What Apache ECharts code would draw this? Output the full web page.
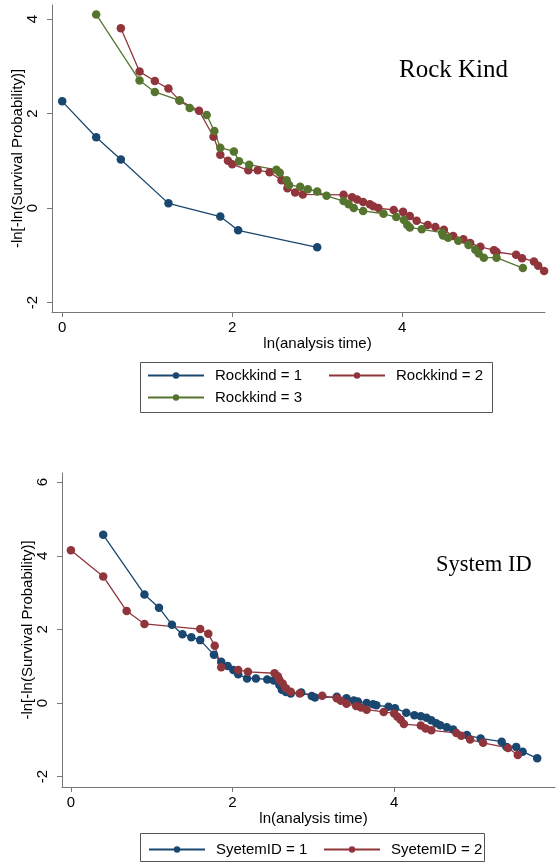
<!DOCTYPE html>
<html><head><meta charset="utf-8">
<script src="https://cdn.jsdelivr.net/npm/echarts@6/dist/echarts.min.js"></script>
<style>html,body{margin:0;padding:0;background:#fff}#c{width:559px;height:862px}</style>
</head><body><div id="c"></div>
<script>
// ---- Data (top chart: Rock Kind) ----
var rock1 = [[0,2.26],[0.40,1.50],[0.69,1.03],[1.25,0.10],[1.86,-0.18],[2.07,-0.47],[3.0,-0.83]];
var rock2 = [[0.69,3.81],[0.91,2.89],[1.09,2.69],[1.25,2.53],[1.38,2.28],[1.61,2.06],[1.78,1.51],[1.86,1.13],[1.95,1.00],[2.00,0.93],[2.19,0.80],[2.30,0.80],[2.44,0.76],[2.58,0.59],[2.65,0.42],[2.74,0.33],[2.83,0.29],[3.31,0.28],[3.41,0.23],[3.47,0.18],[3.54,0.13],[3.62,0.08],[3.66,0.04],[3.72,0.0],[3.90,-0.04],[4.01,-0.08],[4.09,-0.17],[4.17,-0.27],[4.30,-0.36],[4.39,-0.40],[4.49,-0.46],[4.60,-0.59],[4.72,-0.66],[4.80,-0.74],[4.92,-0.82],[5.08,-0.89],[5.11,-0.93],[5.34,-0.99],[5.41,-1.06],[5.55,-1.13],[5.60,-1.22],[5.67,-1.33]];
var rock3 = [[0.40,4.10],[0.91,2.70],[1.09,2.46],[1.38,2.28],[1.50,2.12],[1.70,1.97],[1.79,1.63],[1.86,1.28],[2.02,1.20],[2.08,0.99],[2.20,0.92],[2.52,0.81],[2.56,0.75],[2.64,0.59],[2.67,0.49],[2.80,0.45],[2.89,0.40],[3.0,0.35],[3.11,0.26],[3.31,0.15],[3.37,0.08],[3.43,0.0],[3.54,-0.06],[3.78,-0.12],[3.93,-0.19],[4.02,-0.25],[4.06,-0.36],[4.09,-0.41],[4.23,-0.45],[4.47,-0.52],[4.48,-0.58],[4.54,-0.63],[4.66,-0.69],[4.78,-0.78],[4.86,-0.88],[4.90,-0.96],[4.96,-1.05],[5.11,-1.05],[5.42,-1.27]];
// ---- Data (bottom chart: System ID) ----
var sys1 = [[0.40,4.57],[0.91,2.95],[1.09,2.59],[1.25,2.13],[1.38,1.87],[1.49,1.79],[1.60,1.71],[1.77,1.31],[1.86,1.12],[1.94,1.01],[2.01,0.90],[2.07,0.78],[2.18,0.67],[2.29,0.67],[2.43,0.64],[2.51,0.61],[2.58,0.49],[2.61,0.36],[2.66,0.30],[2.72,0.26],[2.85,0.29],[2.98,0.19],[3.02,0.15],[3.29,0.17],[3.41,0.13],[3.50,0.07],[3.55,0.04],[3.66,0.0],[3.74,-0.03],[3.78,-0.06],[3.93,-0.10],[4.01,-0.14],[4.15,-0.26],[4.25,-0.33],[4.33,-0.36],[4.40,-0.40],[4.46,-0.47],[4.52,-0.55],[4.57,-0.60],[4.65,-0.66],[4.73,-0.72],[4.90,-0.87],[5.07,-0.96],[5.33,-1.05],[5.39,-1.19],[5.51,-1.19],[5.59,-1.32],[5.77,-1.50]];
var sys2 = [[0.0,4.15],[0.40,3.44],[0.69,2.50],[0.91,2.15],[1.60,2.01],[1.70,1.88],[1.78,1.56],[1.86,0.97],[2.07,0.90],[2.19,0.85],[2.52,0.81],[2.56,0.73],[2.58,0.63],[2.62,0.53],[2.66,0.40],[2.72,0.31],[2.83,0.26],[3.11,0.20],[3.29,0.13],[3.34,0.06],[3.41,-0.02],[3.53,-0.08],[3.59,-0.12],[3.66,-0.18],[3.87,-0.24],[4.00,-0.28],[4.04,-0.37],[4.08,-0.45],[4.12,-0.57],[4.33,-0.61],[4.39,-0.69],[4.46,-0.74],[4.77,-0.81],[4.83,-0.89],[4.94,-0.99],[5.10,-1.08],[5.41,-1.22],[5.53,-1.41]];
// ---- Tick labels ----
var xTicks = [0, 2, 4];
var yTicksTop = [-2, 0, 2, 4];
var yTicksBottom = [-2, 0, 2, 4, 6];

var NAVY = '#1a476f', MAROON = '#90353b', GREEN = '#55752f';
var SANS = 'Liberation Sans, Arial, sans-serif';
var SERIF = 'Liberation Serif, Times New Roman, serif';

function xAx(gi, min, max) {
  return {
    type: 'value', gridIndex: gi, min: min, max: max,
    axisLine: { show: true, onZero: false, lineStyle: { color: '#777', width: 1 } },
    axisTick: { show: true, length: 5, customValues: xTicks, lineStyle: { color: '#777' } },
    axisLabel: { customValues: xTicks, margin: 8, fontSize: 15, color: '#000', fontFamily: SANS },
    splitLine: { show: false },
    name: 'ln(analysis time)', nameLocation: 'middle', nameGap: 24, nameMoveOverlap: false,
    nameTextStyle: { fontSize: 15, color: '#000', fontFamily: SANS, padding: gi === 0 ? [0, 0, 0, 38] : [0, 0, 0, 10] }
  };
}
function yAx(gi, min, max, ticks) {
  return {
    type: 'value', gridIndex: gi, min: min, max: max,
    axisLine: { show: true, onZero: false, lineStyle: { color: '#777', width: 1 } },
    axisTick: { show: true, length: 5, customValues: ticks, lineStyle: { color: '#777' } },
    axisLabel: { customValues: ticks, rotate: 90, margin: 12, fontSize: 15, color: '#000', fontFamily: SANS },
    splitLine: { show: false },
    name: '-ln[-ln(Survival Probability)]', nameLocation: 'middle', nameGap: 27, nameMoveOverlap: false,
    nameTextStyle: { fontSize: 15, color: '#000', fontFamily: SANS }
  };
}
function ser(name, data, color, gi) {
  return {
    type: 'line', name: name, data: data, xAxisIndex: gi, yAxisIndex: gi,
    symbol: 'circle', symbolSize: 8.5, showSymbol: true,
    lineStyle: { color: color, width: 1.3 }, itemStyle: { color: color },
    emphasis: { disabled: true }, animation: false
  };
}
function leg(name, left, top) {
  return {
    data: [name], left: left, top: top, padding: 0, itemGap: 0,
    itemWidth: 56, itemHeight: 8, selectedMode: false,
    textStyle: { fontSize: 15, color: '#000', fontFamily: SANS, padding: [0, 0, 0, 6] }
  };
}

var chart = echarts.init(document.getElementById('c'));
chart.setOption({
  backgroundColor: '#fff',
  animation: false,
  grid: [
    { left: 52, top: 5, width: 493, height: 307, containLabel: false, outerBoundsMode: 'none' },
    { left: 62, top: 473, width: 493, height: 314, containLabel: false, outerBoundsMode: 'none' }
  ],
  xAxis: [xAx(0, -0.12, 5.68), xAx(1, -0.11, 5.99)],
  yAxis: [yAx(0, -2.2, 4.3, yTicksTop), yAx(1, -2.28, 6.25, yTicksBottom)],
  series: [
    ser('Rockkind = 1', rock1, NAVY, 0),
    ser('Rockkind = 2', rock2, MAROON, 0),
    ser('Rockkind = 3', rock3, GREEN, 0),
    ser('SyetemID = 1', sys1, NAVY, 1),
    ser('SyetemID = 2', sys2, MAROON, 1)
  ],
  legend: [
    leg('Rockkind = 1', 147, 368),
    leg('Rockkind = 2', 328, 368),
    leg('Rockkind = 3', 147, 390),
    leg('SyetemID = 1', 148, 842),
    leg('SyetemID = 2', 323, 842)
  ],
  graphic: [
    { type: 'rect', shape: { x: 140.5, y: 362.5, width: 352, height: 50 }, style: { fill: 'none', stroke: '#555', lineWidth: 1 }, silent: true },
    { type: 'rect', shape: { x: 140.5, y: 833.5, width: 344, height: 28 }, style: { fill: 'none', stroke: '#555', lineWidth: 1 }, silent: true },
    { type: 'text', x: 399, y: 70, style: { text: 'Rock Kind', font: '25px ' + SERIF, fill: '#000', textVerticalAlign: 'middle' }, silent: true },
    { type: 'text', x: 436, y: 565, style: { text: 'System ID', font: '22.5px ' + SERIF, fill: '#000', textVerticalAlign: 'middle' }, silent: true }
  ]
});
</script></body></html>
